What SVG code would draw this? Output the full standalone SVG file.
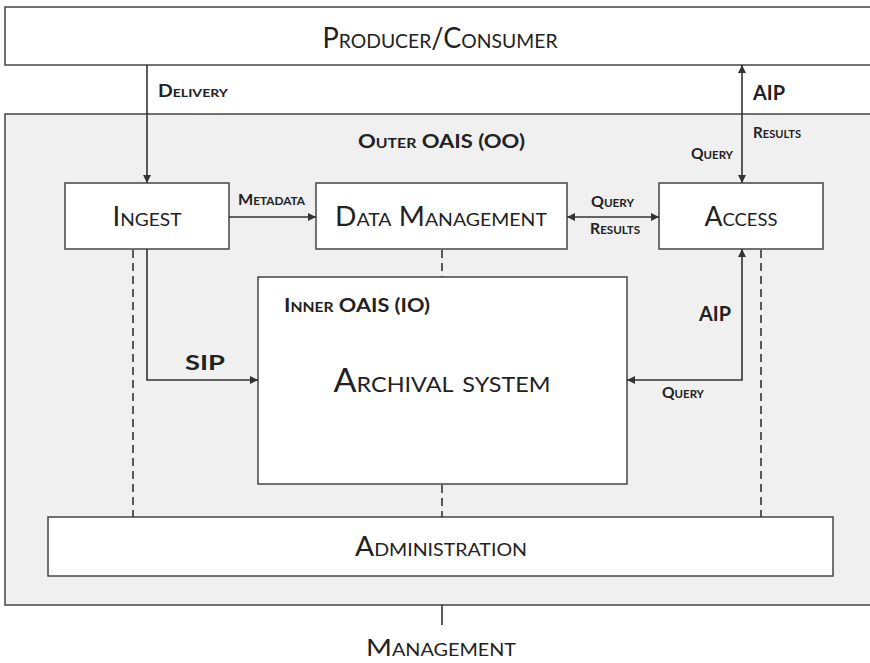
<svg xmlns="http://www.w3.org/2000/svg" width="870" height="663" viewBox="0 0 870 663">
<defs>
<marker id="ah" viewBox="0 0 10 10" refX="10" refY="5" markerWidth="8" markerHeight="8" markerUnits="userSpaceOnUse" orient="auto-start-reverse">
<path d="M0,0 L10,5 L0,10 z" fill="#333"/>
</marker>
<style>
.box{fill:#fff;stroke:#444;stroke-width:1.5}
.outer{fill:#f0f0f0;stroke:#444;stroke-width:1.5}
.big{font-family:Lato,"Open Sans","Liberation Sans",sans-serif;font-variant:small-caps;fill:#222;text-anchor:middle}
.lbl{font-family:Lato,"Open Sans","Liberation Sans",sans-serif;font-variant:small-caps;font-weight:bold;fill:#222}
.line{stroke:#333;stroke-width:1.6;fill:none}
.dash{stroke:#333;stroke-width:1.6;fill:none;stroke-dasharray:8 5}
</style>
</defs>
<rect width="870" height="663" fill="#fff"/>
<g id="outer-oais">
<rect class="outer" x="5" y="114" width="880" height="491"/>
<text class="lbl" x="358" y="148" font-size="18" textLength="167" lengthAdjust="spacingAndGlyphs">Outer OAIS (OO)</text>
</g>
<g id="producer-consumer">
<rect class="box" x="5" y="7" width="880" height="58"/>
<text class="big" x="440" y="48" font-size="28" textLength="235" lengthAdjust="spacingAndGlyphs">Producer/Consumer</text>
</g>
<g id="ingest">
<rect class="box" x="65" y="183" width="164" height="66"/>
<text class="big" x="147" y="226" font-size="26" textLength="69" lengthAdjust="spacingAndGlyphs">Ingest</text>
</g>
<g id="data-management">
<rect class="box" x="316" y="183" width="251" height="66"/>
<text class="big" x="441" y="226" font-size="26" textLength="212" lengthAdjust="spacingAndGlyphs">Data Management</text>
</g>
<g id="access">
<rect class="box" x="659" y="183" width="164" height="66"/>
<text class="big" x="741" y="226" font-size="26" textLength="73" lengthAdjust="spacingAndGlyphs">Access</text>
</g>
<g id="inner-oais">
<rect class="box" x="258" y="277" width="369" height="207"/>
<text class="lbl" x="284" y="312" font-size="18" textLength="146" lengthAdjust="spacingAndGlyphs">Inner OAIS (IO)</text>
<text class="big" x="442" y="392" font-size="32" textLength="217" lengthAdjust="spacingAndGlyphs">Archival system</text>
</g>
<g id="administration">
<rect class="box" x="48" y="517" width="785" height="59"/>
<text class="big" x="441" y="556" font-size="26" textLength="172" lengthAdjust="spacingAndGlyphs">Administration</text>
</g>
<g id="management">
<text class="big" x="441" y="656" font-size="24" textLength="150" lengthAdjust="spacingAndGlyphs">Management</text>
</g>
<g id="connectors">
<path class="line" d="M147,65 V183" marker-end="url(#ah)"/>
<path class="line" d="M742,183 V65" marker-start="url(#ah)" marker-end="url(#ah)"/>
<path class="line" d="M229,217 H316" marker-end="url(#ah)"/>
<path class="line" d="M567,217 H659" marker-start="url(#ah)" marker-end="url(#ah)"/>
<path class="line" d="M147,249 V380 H258" marker-end="url(#ah)"/>
<path class="line" d="M742,249 V380 H627" marker-start="url(#ah)" marker-end="url(#ah)"/>
<path class="line" d="M442,605 V625"/>
<path class="dash" d="M133,250 V517"/>
<path class="dash" d="M761,250 V517"/>
<path class="dash" d="M442,250 V277"/>
<path class="dash" d="M442,485 V517"/>
<text class="lbl" x="158" y="97" font-size="16.5" textLength="70" lengthAdjust="spacingAndGlyphs">Delivery</text>
<text class="lbl" x="753" y="100" font-size="20" textLength="32" lengthAdjust="spacingAndGlyphs">AIP</text>
<text class="lbl" x="753" y="138" font-size="15" textLength="48" lengthAdjust="spacingAndGlyphs">Results</text>
<text class="lbl" x="691" y="159" font-size="15" textLength="42" lengthAdjust="spacingAndGlyphs">Query</text>
<text class="lbl" x="238" y="205" font-size="15" textLength="67" lengthAdjust="spacingAndGlyphs">Metadata</text>
<text class="lbl" x="591" y="207" font-size="15" textLength="43" lengthAdjust="spacingAndGlyphs">Query</text>
<text class="lbl" x="590" y="234" font-size="15" textLength="50" lengthAdjust="spacingAndGlyphs">Results</text>
<text class="lbl" x="185" y="370" font-size="20" textLength="40" lengthAdjust="spacingAndGlyphs">SIP</text>
<text class="lbl" x="699" y="321" font-size="20" textLength="32" lengthAdjust="spacingAndGlyphs">AIP</text>
<text class="lbl" x="662" y="398" font-size="15" textLength="42" lengthAdjust="spacingAndGlyphs">Query</text>
</g>
</svg>
